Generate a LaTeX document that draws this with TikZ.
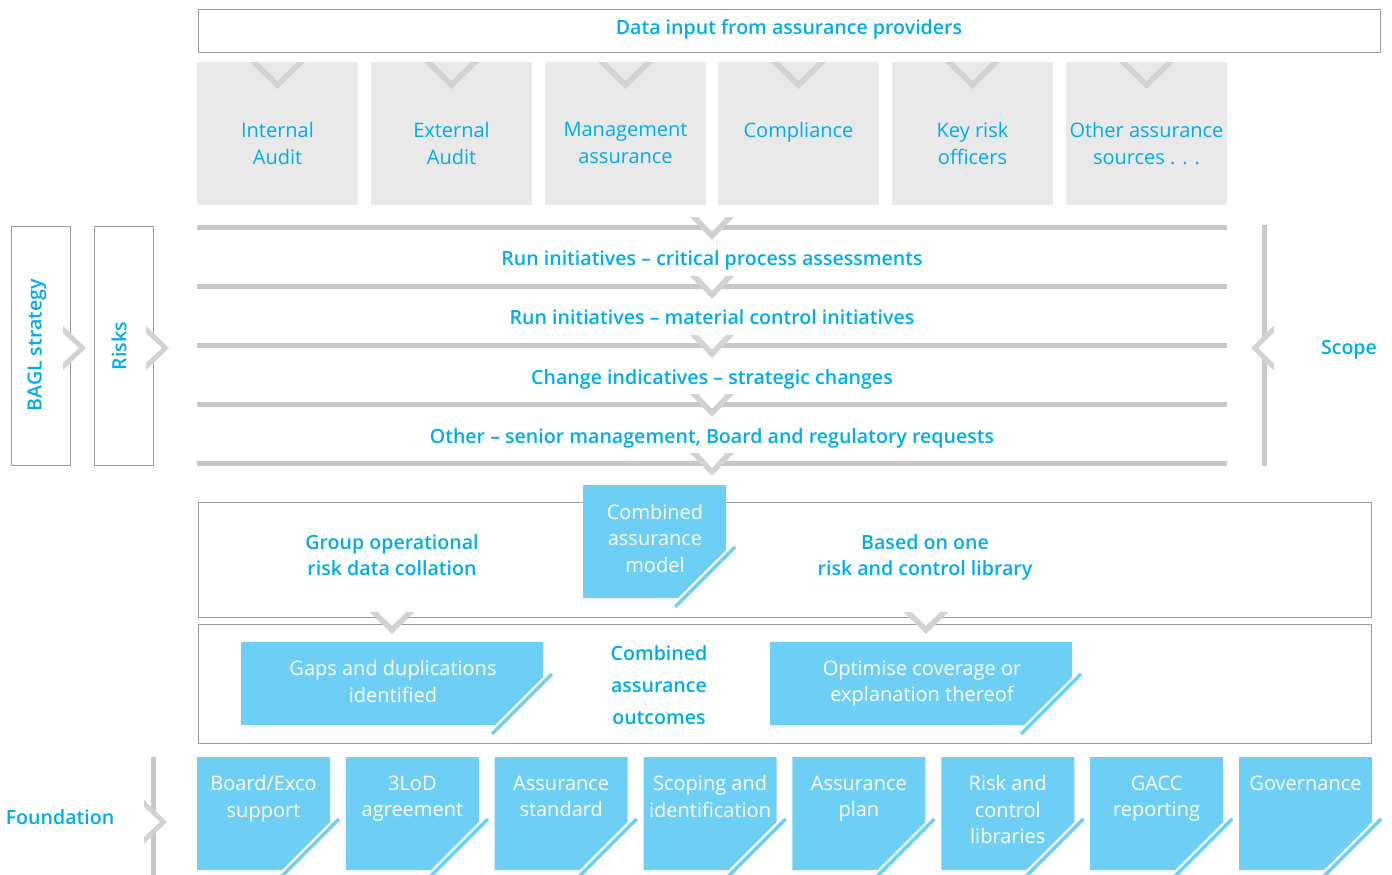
\documentclass[tikz,border=0pt]{standalone}
\usepackage{fontspec}
\IfFontExistsTF{Open Sans SemiBold}{%
  \setmainfont{Open Sans}[BoldFont={Open Sans SemiBold}]\newcommand{\lblsize}{19.6}}{%
  \IfFontExistsTF{Open Sans Semibold}{%
    \setmainfont{Open Sans}[BoldFont={Open Sans Semibold}]\newcommand{\lblsize}{19.6}}{%
    \setmainfont{Open Sans}\newcommand{\lblsize}{18.8}}}
\usetikzlibrary{calc}

\definecolor{txtblue}{RGB}{0,172,236}
\definecolor{cardblue}{RGB}{110,207,246}
\definecolor{panelgray}{RGB}{233,233,233}
\definecolor{bargray}{RGB}{200,200,200}
\definecolor{veegray}{RGB}{210,210,210}
\definecolor{framegray}{RGB}{155,155,155}

\newcommand{\txtfont}{\fontsize{20}{26.5}\selectfont}
\newcommand{\lblfont}{\bfseries\fontsize{\lblsize}{26}\selectfont}

% blue card with a cut lower-right corner and a diagonal stripe
\newcommand{\cardshape}[4]{%
  \fill[cardblue] (#1,#2) -- (#3,#2) -- (#3,#4-48) -- (#3-48,#4) -- (#1,#4) -- cycle;
  \draw[cardblue, line width=3.5pt] (#3+9,#4-51) -- (#3-51,#4+9);
}
% downward chevron drawn on a bar (cx, top y, half width, depth, thickness)
\newcommand{\downvee}[6]{%
  \fill[white] (#1-#3+#5,#2) -- (#1,#2+#4-#5) -- (#1+#3-#5,#2) -- cycle;
  \fill[#6] (#1-#3,#2) -- (#1,#2+#4) -- (#1+#3,#2) -- (#1+#3-#5,#2) -- (#1,#2+#4-#5) -- (#1-#3+#5,#2) -- cycle;
}
% right-pointing chevron (left x, centre y, depth, half height, thickness)
\newcommand{\rightvee}[5]{%
  \fill[white] (#1,#2-#4+#5) -- (#1+#3-#5,#2) -- (#1,#2+#4-#5) -- cycle;
  \fill[veegray] (#1,#2-#4) -- (#1+#3,#2) -- (#1,#2+#4) -- (#1,#2+#4-#5) -- (#1+#3-#5,#2) -- (#1,#2-#4+#5) -- cycle;
}
% left-pointing chevron (right x, centre y, depth, half height, thickness)
\newcommand{\leftvee}[5]{%
  \fill[white] (#1,#2-#4+#5) -- (#1-#3+#5,#2) -- (#1,#2+#4-#5) -- cycle;
  \fill[veegray] (#1,#2-#4) -- (#1-#3,#2) -- (#1,#2+#4) -- (#1,#2+#4-#5) -- (#1-#3+#5,#2) -- (#1,#2-#4+#5) -- cycle;
}

\tikzset{
  frame/.style={draw=framegray, line width=1.3pt},
  hbar/.style={draw=bargray, line width=5pt},
  vbar/.style={draw=bargray, line width=5pt},
  lbl/.style={text=txtblue, font=\lblfont, align=center, inner sep=0pt},
  ptext/.style={text=txtblue, font=\fontsize{20}{27}\selectfont, align=center, inner sep=0pt},
  ctext/.style={text=white, font=\txtfont, align=center, inner sep=0pt},
  panel/.style={fill=panelgray, anchor=north west, minimum width=161pt, minimum height=143pt, inner sep=0pt},
}

\begin{document}
\begin{tikzpicture}[x=1pt,y=-1pt]
\useasboundingbox (0,0) rectangle (1392,875);

% ---- data input header ----
\node[frame, anchor=north west, minimum width=1182pt, minimum height=43pt, inner sep=0pt] (input) at (198,9) {};
\node[lbl] (inputlbl) at (789,29) {Data input from assurance providers};

% ---- assurance providers ----
\node[panel] (p1) at (197,62) {};
\node[panel] (p2) at (371,62) {};
\node[panel] (p3) at (545,62) {};
\node[panel] (p4) at (718,62) {};
\node[panel] (p5) at (892,62) {};
\node[panel] (p6) at (1066,62) {};
\foreach \cx in {277.5,451.5,625.5,798.5,972.5,1146.5}{
  \fill[veegray] (\cx-27.5,62) -- (\cx,89) -- (\cx+27.5,62) -- (\cx+19.5,62) -- (\cx,81) -- (\cx-19.5,62) -- cycle;
}
\node[ptext, anchor=north] (t1) at (277.5,122) {Internal\\Audit};
\node[ptext, anchor=north] (t2) at (451.5,122) {External\\Audit};
\node[ptext, anchor=north] (t3) at (625.5,122) {Management\\assurance};
\node[ptext, anchor=north] (t4) at (798.5,122) {Compliance};
\node[ptext, anchor=north] (t5) at (972.5,122) {Key risk\\officers};
\node[ptext, anchor=north] (t6) at (1146.5,122) {Other assurance\\sources . . .};

% ---- scope bars ----
\foreach \by in {227,286,345,404,463}{
  \draw[hbar] (197,\by) -- (1227,\by);
  \downvee{712}{\by-10}{22}{23}{8}{veegray}
}
\node[lbl] (r1) at (712,260.5) {Run initiatives – critical process assessments};
\node[lbl] (r2) at (712,317.5) {Run initiatives – material control initiatives};
\node[lbl] (r3) at (712,379.5) {Change indicatives – strategic changes};
\node[lbl] (r4) at (712,438.5) {Other – senior management, Board and regulatory requests};

% ---- scope bracket ----
\coordinate (scopetop) at (1264,225);
\coordinate (scopebot) at (1264,466);
\draw[vbar] (scopetop) -- (scopebot);
\leftvee{1274}{348}{23}{23}{7}
\node[lbl] (scope) at (1349,349.5) {Scope};

% ---- strategy and risks ----
\node[frame, anchor=north west, minimum width=59pt, minimum height=239pt, inner sep=0pt] (bagl) at (11,226) {};
\node[frame, anchor=north west, minimum width=59pt, minimum height=239pt, inner sep=0pt] (risks) at (94,226) {};
\rightvee{63}{348}{23}{22}{7}
\rightvee{146}{348}{23}{22}{7}
\node[lbl, rotate=90] (bagllbl) at (37,345) {BAGL strategy};
\node[lbl, rotate=90] (riskslbl) at (119,346) {Risks};

% ---- combined assurance model ----
\node[frame, anchor=north west, minimum width=1173pt, minimum height=115pt, inner sep=0pt] (model) at (198,502) {};
\node[frame, anchor=north west, minimum width=1173pt, minimum height=119pt, inner sep=0pt] (outcome) at (198,624) {};
\downvee{392}{612}{22.5}{22}{8}{veegray}
\downvee{926}{612}{22.5}{22}{8}{veegray}

\node[lbl] (collation) at (392,555) {Group operational\\risk data collation};
\node[lbl] (library) at (925,557) {Based on one\\risk and control library};
\cardshape{583}{485}{726}{598}
\node[ctext] (cam) at (655,538) {Combined\\assurance\\model};

\cardshape{241}{642}{543}{725}
\node[ctext] (gaps) at (393,681.5) {Gaps and duplications\\identified};
\cardshape{770}{642}{1072}{725}
\node[ctext] (optimise) at (922,683.5) {Optimise coverage or\\explanation thereof};
\node[lbl, font=\bfseries\fontsize{\lblsize}{32}\selectfont] (outcomes) at (659,685) {Combined\\assurance\\outcomes};

% ---- foundation ----
\coordinate (fndtop) at (153,757);
\coordinate (fndbot) at (153,875);
\draw[vbar] (fndtop) -- (fndbot);
\rightvee{144}{822}{23}{22}{7}
\node[lbl] (foundation) at (60,817) {Foundation};

\cardshape{197}{757}{330}{870}
\cardshape{345.9}{757}{478.9}{870}
\cardshape{494.7}{757}{627.7}{870}
\cardshape{643.6}{757}{776.6}{870}
\cardshape{792.4}{757}{925.4}{870}
\cardshape{941.3}{757}{1074.3}{870}
\cardshape{1090.1}{757}{1223.1}{870}
\cardshape{1239}{757}{1372}{870}
\node[ctext, anchor=north] (f1) at (263.5,775.5) {Board/Exco\\support};
\node[ctext, anchor=north] (f2) at (412.4,775.5) {3LoD\\agreement};
\node[ctext, anchor=north] (f3) at (561.2,775.5) {Assurance\\standard};
\node[ctext, anchor=north] (f4) at (710.1,775.5) {Scoping and\\identification};
\node[ctext, anchor=north] (f5) at (858.9,775.5) {Assurance\\plan};
\node[ctext, anchor=north] (f6) at (1007.8,775.5) {Risk and\\control\\libraries};
\node[ctext, anchor=north] (f7) at (1156.6,775.5) {GACC\\reporting};
\node[ctext, anchor=north] (f8) at (1305.5,775.5) {Governance};
\end{tikzpicture}
\end{document}
